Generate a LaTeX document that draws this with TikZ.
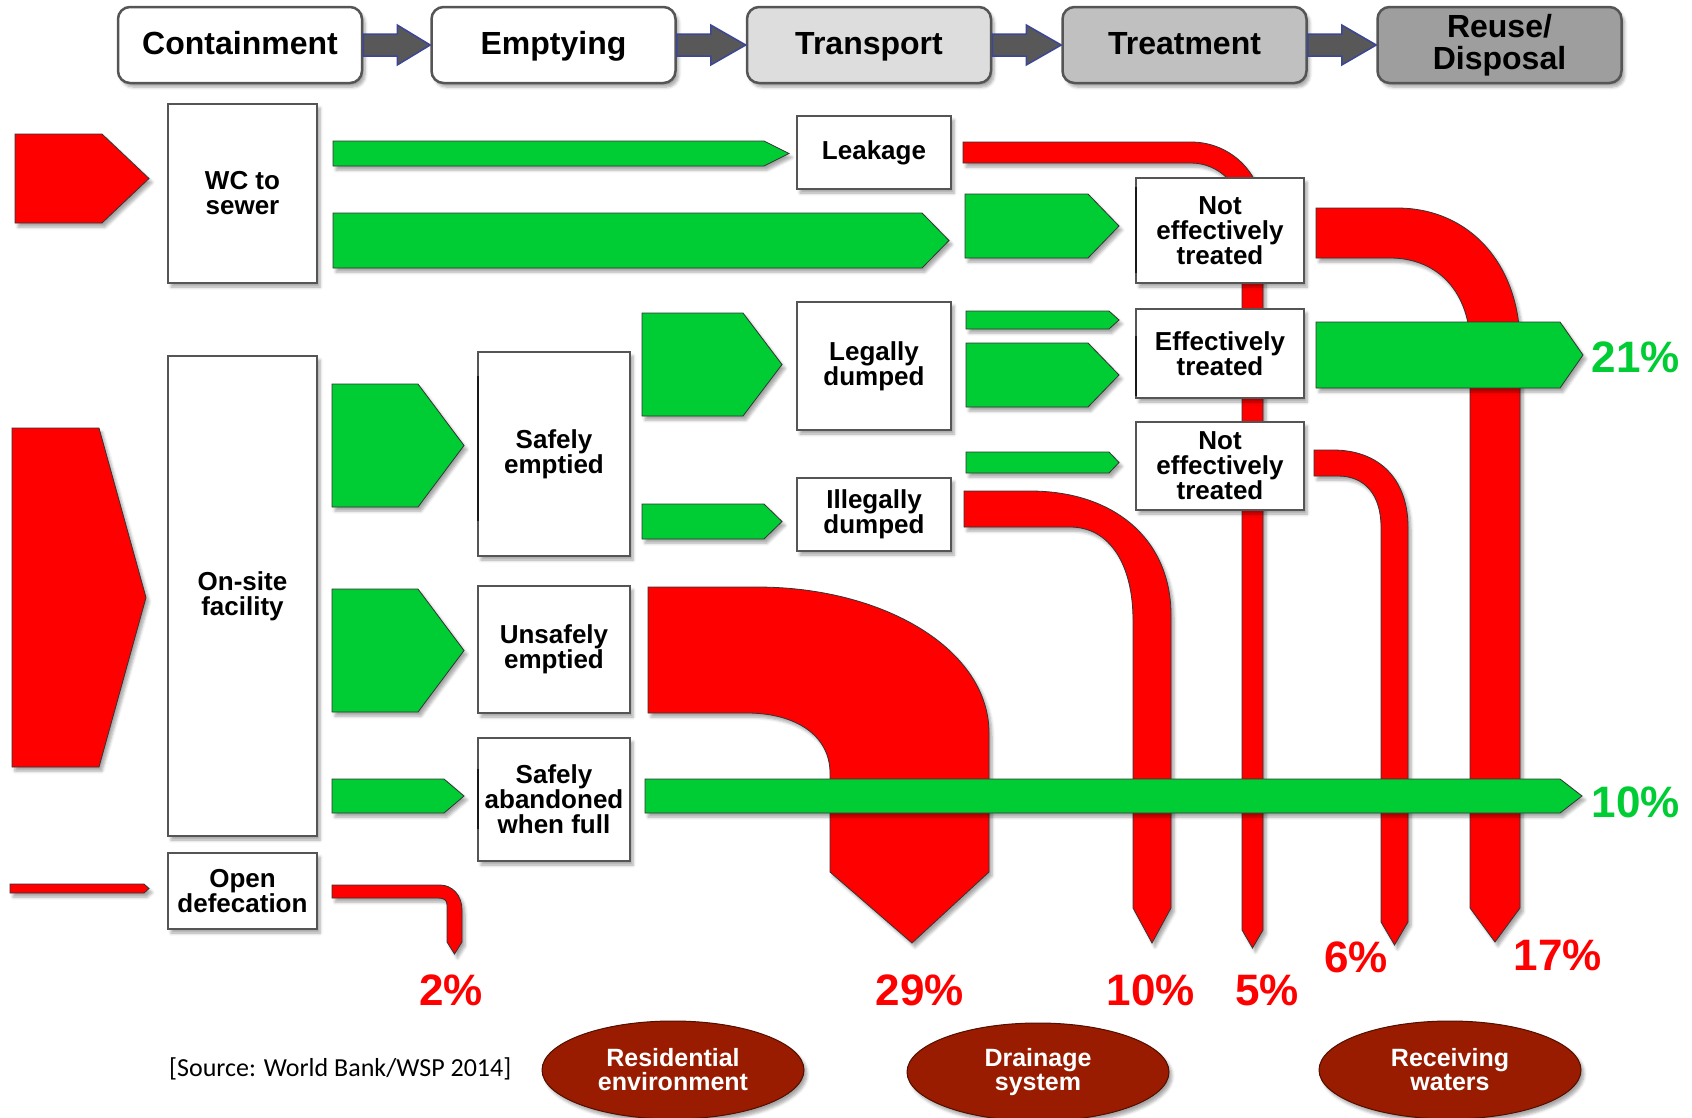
\documentclass[tikz,border=0pt]{standalone}
\usepackage{fontspec}
\setmainfont{Liberation Sans}
\newfontfamily\srcfont{Carlito}
\usetikzlibrary{shapes.geometric,calc,shadows.blur}
\definecolor{flowgreen}{RGB}{0,204,51}
\definecolor{flowred}{RGB}{255,0,0}
\definecolor{ellred}{RGB}{153,27,0}
\definecolor{ellline}{RGB}{80,15,0}
\definecolor{boxline}{RGB}{85,85,85}
\definecolor{harrowfill}{RGB}{88,88,88}
\definecolor{harrowline}{RGB}{60,70,150}
\definecolor{transfill}{RGB}{221,221,221}
\definecolor{treatfill}{RGB}{192,192,192}
\definecolor{reusefill}{RGB}{158,158,158}
\tikzset{
  shad/.style={blur shadow={shadow xshift=3pt, shadow yshift=-4pt, shadow blur radius=3pt, shadow blur steps=5, shadow opacity=35}},
  hbox/.style={draw=boxline, line width=2.5pt, rounded corners=12pt, minimum width=244pt, minimum height=76pt, align=center, font=\fontsize{32}{32}\selectfont\bfseries, inner sep=0pt, shad},
  hsingle/.style={text height=23pt, text depth=5pt},
  harrow/.style={fill=harrowfill, draw=harrowline, line width=1.5pt, line join=miter},
  wbox/.style={draw=boxline, fill=white, line width=1.3pt, align=center, font=\fontsize{26}{25}\selectfont\bfseries, inner sep=0pt, shad},
  edgeline/.style={draw=black!90, line width=2pt},
  gflow/.style={fill=flowgreen, draw=black!80, line width=0.8pt, shad},
  rflow/.style={fill=flowred, draw=black!80, line width=0.8pt, shad},
  pct/.style={font=\fontsize{44}{44}\selectfont\bfseries, anchor=base, inner sep=0pt},
  ellnode/.style={ellipse, fill=ellred, draw=ellline, line width=1pt, text=white, minimum width=262pt, minimum height=98pt, inner sep=0pt, align=center, font=\fontsize{25}{24}\selectfont\bfseries, shad}
}
\newcommand\flowshape[6]{\path[#1] (#2,#3) -- (#5,#3) -- (#6,{(#3+#4)/2}) -- (#5,#4) -- (#2,#4) -- cycle;}
\begin{document}
\begin{tikzpicture}[x=1pt,y=-1pt]
\useasboundingbox (0,0) rectangle (1692,1117);
% header
\node[hbox, hsingle, fill=white] (cont) at (240,45) {Containment};
\node[hbox, hsingle, fill=white] (empt) at (553.5,45) {Emptying};
\node[hbox, hsingle, fill=transfill] (trans) at (869,45) {Transport};
\node[hbox, hsingle, fill=treatfill] (treat) at (1184.5,45) {Treatment};
\node[hbox, fill=reusefill] (reuse) at (1499.5,45) {Reuse/\\Disposal};
\foreach \a/\b in {cont/empt, empt/trans, trans/treat, treat/reuse}{
  \path[harrow] ($(\a.east)+(0,-11)$) -- ($(\a.east)+(34,-11)$) -- ($(\a.east)+(34,-20)$) -- (\b.west)
     -- ($(\a.east)+(34,20)$) -- ($(\a.east)+(34,11)$) -- ($(\a.east)+(0,11)$) -- cycle;
}
% red pipes
\path[rflow] (963,142) -- (1191,142) .. controls (1231,142) and (1263,174) .. (1263,214) -- (1263,930) -- (1252.5,948) -- (1242,930) -- (1242,214) .. controls (1242,186) and (1219,163) .. (1191,163) -- (963,163) -- cycle;
\path[rflow] (1316,208) -- (1397,208) .. controls (1470,208) and (1520,265) .. (1520,345) -- (1520,908) -- (1495,942) -- (1470,908) -- (1470,345) .. controls (1470,295) and (1440,258) .. (1390,258) -- (1316,258) -- cycle;
\path[rflow] (1314,450) -- (1333,450) .. controls (1380,450) and (1408,480) .. (1408,527) -- (1408,922) -- (1394.5,945) -- (1381,922) -- (1381,527) .. controls (1381,495) and (1365,476) .. (1338,476) -- (1314,476) -- cycle;
\path[rflow] (964,491) -- (1030,491) .. controls (1115,491) and (1171,540) .. (1171,615) -- (1171,908) -- (1152,943) -- (1133,908) -- (1133,620) .. controls (1133,565) and (1110,527) .. (1070,527) -- (964,527) -- cycle;
\path[rflow] (648,587) -- (757,587) .. controls (885,587) and (989,650) .. (989,733) -- (989,872) -- (912,943) -- (830,872) -- (830,773) .. controls (830,735) and (795,713) .. (747,713) -- (648,713) -- cycle;
\path[rflow] (332,885) -- (440,885) .. controls (452,885) and (462,895) .. (462,910) -- (462,942) -- (454.5,954) -- (447,942) -- (447,905) .. controls (447,900) and (444,898) .. (438,898) -- (332,898) -- cycle;
% red inputs
\flowshape{rflow}{15}{134}{223}{102}{149}
\flowshape{rflow}{12}{428}{767}{99}{146}
\flowshape{rflow}{10}{884}{893}{144}{149}
% boxes
\node[wbox, minimum width=149pt, minimum height=179pt] (wc) at (242.5,193.5) {WC to\\sewer};
\node[wbox, minimum width=149pt, minimum height=480pt] (onsite) at (242.5,596) {On-site\\facility};
\node[wbox, minimum width=149pt, minimum height=76pt] (open) at (242.5,891) {Open\\defecation};
\node[wbox, minimum width=152pt, minimum height=204pt] (safe) at (554,454) {Safely\\emptied};
\node[wbox, minimum width=152pt, minimum height=127pt] (unsafe) at (554,649.5) {Unsafely\\emptied};
\node[wbox, minimum width=152pt, minimum height=123pt] (aband) at (554,799.5) {Safely\\abandoned\\when full};
\node[wbox, minimum width=154pt, minimum height=73pt] (leak) at (874,152.5) {Leakage};
\node[wbox, minimum width=154pt, minimum height=128pt] (legal) at (874,366) {Legally\\dumped};
\node[wbox, minimum width=154pt, minimum height=73pt] (illegal) at (874,514.5) {Illegally\\dumped};
\node[wbox, minimum width=168pt, minimum height=105pt] (net1) at (1220,230.5) {Not\\effectively\\treated};
\node[wbox, minimum width=168pt, minimum height=89pt] (eff) at (1220,353.5) {Effectively\\treated};
\node[wbox, minimum width=168pt, minimum height=88pt] (net2) at (1220,466) {Not\\effectively\\treated};
% darker left edges seen on some boxes
\path[edgeline] ($(safe.north west)+(1,25)$) -- ($(safe.north west)+(1,170)$);
\path[edgeline] ($(aband.north west)+(1,32)$) -- ($(aband.north west)+(1,92)$);
\path[edgeline] ($(net1.north west)+(1,10)$) -- ($(net1.north west)+(1,96)$);
\path[edgeline] ($(eff.north west)+(1,28)$) -- ($(eff.north west)+(1,88)$);
% green flows
\flowshape{gflow}{333}{141}{166}{764}{789}
\flowshape{gflow}{333}{213}{268}{922}{949}
\flowshape{gflow}{965}{194}{258}{1088}{1119}
\flowshape{gflow}{966}{311}{329}{1109}{1119}
\flowshape{gflow}{966}{343}{407}{1088}{1119}
\flowshape{gflow}{1316}{322}{388}{1560}{1583}
\flowshape{gflow}{966}{452}{473}{1109}{1119}
\flowshape{gflow}{332}{384}{507}{418}{464}
\flowshape{gflow}{642}{313}{416}{743}{782}
\flowshape{gflow}{642}{504}{539}{764}{782}
\flowshape{gflow}{332}{589}{712}{418}{464}
\flowshape{gflow}{332}{779}{813}{444}{464}
\flowshape{gflow}{645}{779}{813}{1560}{1582}
% percentages
\node[pct, text=flowgreen] (p21) at (1636,372) {21\%};
\node[pct, text=flowgreen] (p10g) at (1636,817) {10\%};
\node[pct, text=flowred] (p2) at (451,1005) {2\%};
\node[pct, text=flowred] (p29) at (920,1005) {29\%};
\node[pct, text=flowred] (p10) at (1151,1005) {10\%};
\node[pct, text=flowred] (p5) at (1267,1005) {5\%};
\node[pct, text=flowred] (p6) at (1356,972) {6\%};
\node[pct, text=flowred] (p17) at (1558,970) {17\%};
% source and destinations
\node[font=\srcfont\fontsize{26}{26}\selectfont, anchor=base west, inner sep=0pt] (src) at (169,1076) {[Source: World Bank/WSP 2014]};
\node[ellnode] (resid) at (673,1070) {Residential\\environment};
\node[ellnode] (drain) at (1038,1072) {Drainage\\system};
\node[ellnode] (recv) at (1450,1070) {Receiving\\waters};
\end{tikzpicture}
\end{document}
